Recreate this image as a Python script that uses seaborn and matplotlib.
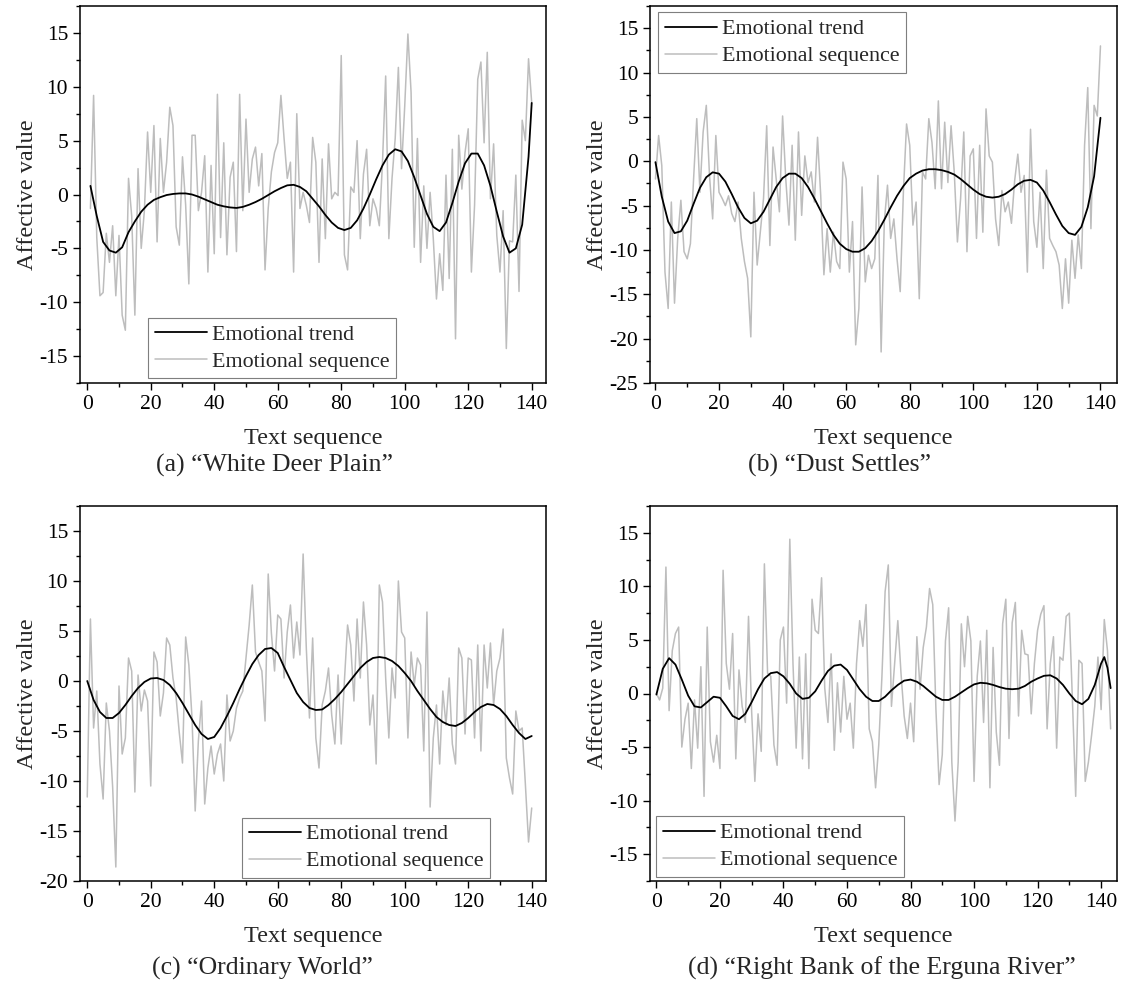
import numpy as np
import matplotlib
matplotlib.use("Agg")
import matplotlib.pyplot as plt
from matplotlib.ticker import MultipleLocator
import seaborn as sns

# emotional sequences (raw affective value per text unit)
seq_a = [-1.3, 9.2, -4.0, -9.4, -9.1, -3.6, -6.3, -2.9, -9.4, -3.8,
         -11.2, -12.6, 1.5, -2.0, -11.2, 2.4, -5.0, -1.5, 5.8, 0.2,
         6.4, -4.4, 5.2, 0.2, 3.0, 8.1, 6.4, -3.0, -4.7, 3.5,
         -1.0, -8.3, 5.5, 5.5, -1.5, 0.2, 3.6, -7.2, 2.7, -5.5,
         9.3, -4.0, 4.8, -5.6, 1.6, 3.0, -5.3, 9.3, -1.5, 7.0,
         0.2, 3.3, 4.4, 0.8, 3.8, -7.0, -1.3, 2.1, 3.9, 4.8,
         9.2, 5.2, 1.5, 3.0, -7.2, 7.5, -1.3, 0.2, -1.0, -2.6,
         5.3, 3.0, -6.3, 3.3, -4.1, 4.7, -0.4, 0.2, -0.1, 12.9,
         -5.6, -7.0, 0.7, 0.2, 5.0, -4.1, 1.9, 4.2, -2.9, -0.4,
         -1.3, -2.9, 3.0, 11.0, -4.1, 1.5, 5.2, 11.8, 2.4, 8.2,
         14.9, 9.5, -4.9, 5.2, -6.3, 0.8, -5.0, 0.2, -4.1, -9.7,
         -5.5, -8.9, 1.8, -7.8, 4.2, -13.4, 5.5, 0.5, 3.9, 6.1,
         -7.2, -1.0, 10.7, 12.3, 4.8, 13.2, -0.4, 4.7, -3.8, -7.2,
         -1.5, -14.3, -4.3, -4.4, 1.8, -9.0, 6.9, 5.0, 12.6, 8.5]

seq_b = [-2.0, 2.9, -0.5, -12.5, -16.6, -4.6, -16.0, -8.7, -4.4, -10.2,
         -11.0, -9.3, -2.0, 4.8, -3.5, 3.3, 6.3, -1.6, -6.5, 2.9,
         -3.5, -4.2, -5.0, -3.9, -5.9, -6.8, -4.6, -8.7, -11.3, -13.2,
         -19.8, -3.5, -11.7, -8.0, -4.2, 4.0, -9.5, 1.6, -2.0, -5.7,
         5.1, -2.0, -7.2, 1.8, -8.9, 3.3, -6.1, 0.6, -2.4, -1.2,
         -4.6, 2.7, -3.9, -12.8, -7.6, -12.5, -8.0, -11.3, -12.1, -0.1,
         -2.0, -12.5, -6.8, -20.7, -16.6, -2.9, -13.6, -10.6, -12.1, -11.0,
         -1.6, -21.5, -6.8, -2.7, -8.7, -6.5, -11.0, -14.7, -3.5, 4.2,
         1.8, -7.2, -4.6, -15.5, -1.2, -2.0, 4.8, 2.1, -3.1, 6.8,
         -3.1, 4.4, -2.4, 4.0, -1.2, -9.1, -4.2, 3.3, -10.2, 0.6,
         1.4, -8.7, 1.8, -8.0, 5.9, 0.6, -0.1, -6.5, -9.5, -3.3,
         -5.7, -4.6, -7.0, -2.2, 0.8, -3.5, -1.6, -12.5, 3.6, -6.8,
         -9.7, -3.5, -12.1, -1.0, -8.7, -9.5, -10.2, -11.7, -16.6, -11.0,
         -16.0, -8.9, -13.2, -8.3, -12.1, 1.8, 8.3, -7.6, 6.3, 5.1, 13.0]

seq_c = [-11.6, 6.2, -4.7, -1.0, -8.3, -11.8, -2.2, -5.0, -10.6, -18.6,
         -0.5, -7.3, -5.7, 2.3, 1.0, -11.1, 0.6, -3.0, -0.9, -2.0,
         -10.5, 2.9, 1.9, -3.5, -1.2, 4.3, 3.6, 0.3, -1.7, -5.2,
         -8.2, 4.4, 1.6, -3.7, -13.0, -6.0, -2.0, -12.3, -8.7, -6.5,
         -9.3, -7.3, -6.3, -10.0, -1.4, -6.0, -5.0, -2.7, -1.7, -1.0,
         2.3, 5.6, 9.6, 2.9, 1.9, 1.0, -4.0, 10.7, 4.8, 1.0,
         6.6, 6.2, 0.3, 4.9, 7.6, 2.3, 5.9, 2.6, 12.7, 3.3,
         -3.7, 4.3, -5.7, -8.7, -2.4, -1.0, 1.3, -3.4, -6.3, 0.6,
         -6.3, 0.0, 5.6, 3.6, -2.0, 6.2, 0.3, 7.9, 3.6, -4.4,
         -1.4, -8.3, 9.6, 7.9, 0.3, -5.7, 1.3, -1.7, 10.0, 4.9,
         4.3, -5.7, 2.9, -0.4, 2.3, 1.6, -7.0, 6.9, -12.6, -5.7,
         -2.4, -8.3, -1.0, -4.4, 0.3, -6.3, -8.3, 3.3, 2.3, -5.3,
         2.3, 2.1, -5.7, 3.6, -7.0, 3.6, -0.7, 3.8, -2.4, 1.0,
         2.3, 5.2, -7.7, -9.7, -11.3, -3.0, -5.0, -4.7, -10.3, -16.1, -12.7]

seq_d = [0.0, -0.6, 0.5, 11.8, -1.6, 4.0, 5.6, 6.2, -5.0, -2.4,
         -0.9, -7.0, -0.6, -5.1, 2.5, -9.6, 6.2, -4.5, -6.4, -3.9,
         -7.0, 11.5, 2.8, 0.4, 5.6, -6.1, 2.2, -1.2, -2.7, 7.2,
         -1.8, -8.2, -1.9, -5.4, 12.1, 1.9, 1.6, -4.8, -6.7, 5.0,
         6.2, -0.9, 14.4, 2.8, -5.1, 3.4, -6.1, 3.7, -7.0, 8.8,
         5.9, 5.6, 10.8, 0.5, -2.7, 3.7, -5.3, 1.0, -3.6, 1.6,
         -2.4, -0.9, -5.1, 2.8, 6.8, 4.4, 8.3, -3.3, -4.5, -8.8,
         -4.8, 1.6, 9.5, 12.0, -1.2, 2.8, 6.8, 1.9, -2.1, -4.2,
         -0.9, -4.5, 5.3, 0.4, 4.3, 6.2, 9.8, 8.3, -1.5, -8.5,
         -5.7, 4.9, 8.0, -6.4, -11.9, -6.4, 6.5, 2.5, 7.2, 4.9,
         -8.2, 1.6, 4.9, -2.7, 5.9, -8.8, 4.3, -3.6, -6.7, 6.5,
         8.8, -4.2, 6.6, 8.5, -2.1, 5.9, 3.7, 3.6, -1.9, 2.8,
         5.9, 7.4, 8.2, -3.3, 2.8, 5.3, -5.1, 3.4, 3.1, 7.2,
         7.5, -0.9, -9.6, 3.1, 2.8, -8.2, -6.4, -3.9, -1.2, 3.4,
         -1.5, 6.9, 4.0, -3.3]

# emotional trends (smoothed curve), sampled every 2 text units
trend_a = [0.8, -2.0, -4.4, -5.2, -5.4, -4.9, -3.5, -2.5, -1.6, -0.95,
           -0.5, -0.25, -0.05, 0.05, 0.1, 0.1, 0.0, -0.2, -0.45, -0.7,
           -0.95, -1.1, -1.2, -1.25, -1.15, -0.95, -0.7, -0.4, -0.05, 0.3,
           0.6, 0.85, 0.9, 0.7, 0.3, -0.4, -1.1, -1.9, -2.6, -3.1,
           -3.3, -3.1, -2.4, -1.3, 0.0, 1.4, 2.7, 3.7, 4.2, 4.0,
           3.1, 1.6, -0.1, -1.8, -3.0, -3.4, -2.6, -0.8, 1.2, 2.9,
           3.8, 3.8, 2.7, 0.8, -1.6, -3.9, -5.4, -5.0, -2.8, 3.5, 8.5]

trend_b = [-0.1, -4.0, -6.8, -8.1, -7.9, -6.7, -4.8, -3.0, -1.8, -1.25,
           -1.4, -2.3, -3.7, -5.2, -6.4, -7.0, -6.7, -5.7, -4.3, -2.9,
           -1.9, -1.4, -1.4, -1.9, -2.9, -4.2, -5.6, -7.0, -8.3, -9.3,
           -9.9, -10.2, -10.2, -9.8, -9.0, -7.9, -6.6, -5.2, -3.9, -2.8,
           -1.9, -1.4, -1.05, -0.9, -0.9, -1.0, -1.2, -1.5, -2.0, -2.6,
           -3.2, -3.7, -4.0, -4.1, -4.0, -3.7, -3.2, -2.6, -2.2, -2.1,
           -2.4, -3.3, -4.6, -6.0, -7.3, -8.1, -8.3, -7.4, -5.2, -1.7, 4.9]

trend_c = [0.0, -1.9, -3.1, -3.7, -3.7, -3.2, -2.4, -1.5, -0.7, -0.1,
           0.25, 0.3, 0.1, -0.4, -1.2, -2.2, -3.3, -4.4, -5.3, -5.8,
           -5.6, -4.7, -3.5, -2.2, -0.8, 0.5, 1.7, 2.6, 3.2, 3.3,
           2.8, 1.4, 0.1, -1.2, -2.1, -2.7, -2.9, -2.85, -2.4, -1.8,
           -1.1, -0.3, 0.5, 1.3, 1.9, 2.3, 2.4, 2.3, 2.0, 1.5,
           0.8, 0.0, -1.0, -1.9, -2.8, -3.6, -4.1, -4.4, -4.5, -4.2,
           -3.7, -3.1, -2.6, -2.3, -2.4, -2.8, -3.5, -4.4, -5.2, -5.8, -5.5]

trend_d = [-0.1, 2.3, 3.3, 2.7, 1.3, -0.2, -1.2, -1.3, -0.8, -0.3,
           -0.4, -1.2, -2.1, -2.4, -1.9, -0.8, 0.4, 1.4, 1.9, 2.0,
           1.6, 0.9, 0.0, -0.5, -0.4, 0.2, 1.2, 2.1, 2.6, 2.7,
           2.2, 1.3, 0.4, -0.3, -0.7, -0.7, -0.3, 0.3, 0.8, 1.2,
           1.3, 1.1, 0.7, 0.2, -0.3, -0.6, -0.6, -0.3, 0.1, 0.5,
           0.85, 1.0, 0.95, 0.8, 0.6, 0.45, 0.4, 0.45, 0.7, 1.1,
           1.4, 1.65, 1.7, 1.4, 0.8, 0.0, -0.7, -1.0, -0.5, 0.8,
           2.8, 3.4, 2.4, 0.5]

seq_start = [1, 0, 0, 0]
trend_x = [list(range(1, 140, 2)) + [140],
           list(range(0, 141, 2)),
           list(range(0, 141, 2)),
           list(range(0, 141, 2)) + [141, 142, 143]]
titles = ["(a) \u201cWhite Deer Plain\u201d", "(b) \u201cDust Settles\u201d",
          "(c) \u201cOrdinary World\u201d", "(d) \u201cRight Bank of the Erguna River\u201d"]
ylims = [(-17.5, 17.5), (-25, 17.5), (-20, 17.5), (-17.5, 17.5)]
xlims = [(-2.3, 144.5), (-1.7, 145.2), (-2.3, 144.5), (-2.0, 145.0)]
legend_anchor = [("lower left", (0.146, 0.013)), ("upper left", (0.017, 0.983)),
                 ("lower left", (0.348, 0.008)), ("lower left", (0.013, 0.011))]
# caption centres (figure fraction), captions sit under each panel
caption_xy = [(0.244, 0.535), (0.746, 0.535), (0.233, 0.032), (0.783, 0.032)]

sns.set_style("ticks")
plt.rcParams['font.family'] = ['Liberation Serif', 'DejaVu Serif']
plt.rcParams['axes.unicode_minus'] = False

fig = plt.figure(figsize=(11.26, 10), dpi=100)
boxes = [[0.0710, 0.617, 0.4139, 0.377], [0.5773, 0.617, 0.4147, 0.377],
         [0.0710, 0.119, 0.4139, 0.375], [0.5773, 0.119, 0.4147, 0.375]]

seqs = [seq_a, seq_b, seq_c, seq_d]
trends = [trend_a, trend_b, trend_c, trend_d]

for i in range(4):
    ax = fig.add_axes(boxes[i])
    xs = np.arange(seq_start[i], seq_start[i] + len(seqs[i]))
    sns.lineplot(x=xs, y=seqs[i], ax=ax, color='#bdbdbd', linewidth=1.1,
                 label='Emotional sequence')
    sns.lineplot(x=trend_x[i], y=trends[i], ax=ax, color='black', linewidth=1.3,
                 label='Emotional trend')
    ax.set_xlim(*xlims[i])
    ax.set_ylim(*ylims[i])
    ax.xaxis.set_major_locator(MultipleLocator(20))
    ax.xaxis.set_minor_locator(MultipleLocator(10))
    ax.yaxis.set_major_locator(MultipleLocator(5))
    ax.yaxis.set_minor_locator(MultipleLocator(2.5))
    ax.tick_params(which='major', direction='out', length=5, width=1, labelsize=15.5,
                   color='black', labelcolor='black')
    ax.tick_params(which='minor', direction='out', length=3, width=1, color='black')
    for s in ax.spines.values():
        s.set_visible(True)
        s.set_color('black')
        s.set_linewidth(1.1)
    ax.set_xlabel('Text sequence', fontsize=17.5, labelpad=10)
    ax.set_ylabel('Affective value', fontsize=17.5, labelpad=1)

    handles, labels = ax.get_legend_handles_labels()
    loc, anchor = legend_anchor[i]
    leg = ax.legend(handles[::-1], labels[::-1], loc=loc, bbox_to_anchor=anchor,
                    borderaxespad=0, fontsize=15.8, frameon=True, fancybox=False,
                    edgecolor='#7f7f7f', framealpha=1, handlelength=2.4,
                    handletextpad=0.2, labelspacing=0.3, borderpad=0.3)
    leg.get_frame().set_linewidth(0.8)

    cx, cy = caption_xy[i]
    fig.text(cx, cy, titles[i], ha='center', va='center', fontsize=18.5)

fig.savefig('out.png', dpi=100)
